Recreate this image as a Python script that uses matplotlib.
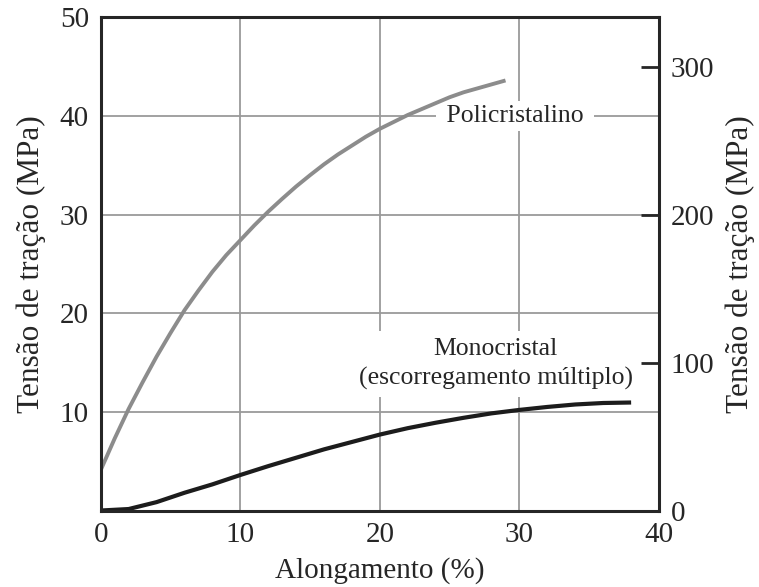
import matplotlib
matplotlib.use("Agg")
import matplotlib.pyplot as plt

# stress-strain curves, strain in %, stress in MPa (left scale)
strain_poly = [0, 1, 2, 3, 4, 5, 6, 7, 8, 9, 10, 11, 12, 13, 14, 15, 16, 17, 18,
               19, 20, 21, 22, 23, 24, 25, 26, 27, 28, 29]
stress_poly = [4.1, 7.3, 10.3, 13.0, 15.6, 18.0, 20.3, 22.3, 24.2, 25.9, 27.4,
               28.9, 30.3, 31.6, 32.85, 34.0, 35.1, 36.1, 37.0, 37.9, 38.7, 39.4,
               40.1, 40.7, 41.3, 41.9, 42.4, 42.8, 43.2, 43.6]

strain_mono = [0, 2, 4, 6, 8, 10, 12, 14, 16, 18, 20, 22, 24, 26, 28, 30, 32,
               34, 36, 38]
stress_mono = [0.0, 0.15, 0.85, 1.8, 2.65, 3.6, 4.5, 5.35, 6.2, 6.95, 7.7, 8.35,
               8.9, 9.4, 9.85, 10.2, 10.5, 10.75, 10.9, 10.95]

x_ticks = [0, 10, 20, 30, 40]
left_ticks = [10, 20, 30, 40, 50]
right_ticks = [0, 100, 200, 300]
right_per_left = 20.0 / 3.0

plt.rcParams['font.family'] = ['Liberation Serif', 'DejaVu Serif']
ink = '#262626'

fig = plt.figure(figsize=(7.59, 5.87), dpi=100)
ax = fig.add_axes([0.1327, 0.1303, 0.7356, 0.8402])

ax.set_xlim(0, 40)
ax.set_ylim(0, 50)
ax.set_xticks(x_ticks)
ax.set_yticks(left_ticks)

for v in [10, 20, 30]:
    ax.axvline(v, color='#9a9a9a', lw=1.3, zorder=1)
for v in [10, 20, 30, 40]:
    ax.axhline(v, color='#9a9a9a', lw=1.3, zorder=1)

ax.plot(strain_poly, stress_poly, color='#8c8c8c', lw=2.8,
        solid_capstyle='butt', solid_joinstyle='round', zorder=3)
ax.plot(strain_mono, stress_mono, color='#1c1c1c', lw=3.0,
        solid_capstyle='butt', solid_joinstyle='round', zorder=3)

ax.text(29.7, 40.0, ' Policristalino ', fontsize=18.5, color=ink,
        ha='center', va='center', zorder=2,
        bbox=dict(boxstyle='square,pad=0.15', fc='white', ec='none'))
ax.text(28.3, 14.85, 'Monocristal\n(escorregamento múltiplo)', fontsize=18.5,
        color=ink, ha='center', va='center', multialignment='center',
        linespacing=1.35, zorder=2,
        bbox=dict(boxstyle='square,pad=0.3', fc='white', ec='none'))

ax.tick_params(axis='both', length=0, pad=8.5, labelsize=21, labelcolor=ink)
ax.set_xlabel('Alongamento (%)', fontsize=21, color=ink, labelpad=6)
ax.set_ylabel('Tensão de tração (MPa)', fontsize=22.5, color=ink, labelpad=10)

for s in ax.spines.values():
    s.set_linewidth(2.2)
    s.set_color(ink)
    s.set_zorder(4)

ax2 = ax.twinx()
ax2.set_ylim(0, 50 * right_per_left)
ax2.set_yticks(right_ticks)
ax2.tick_params(axis='y', direction='in', length=13, width=2.0, color=ink,
                pad=8.5, labelsize=21, labelcolor=ink)
ax2.set_ylabel('Tensão de tração (MPa)', fontsize=22.5, color=ink, labelpad=8)
for s in ax2.spines.values():
    s.set_visible(False)

fig.savefig('out.png', dpi=100, facecolor='white')
